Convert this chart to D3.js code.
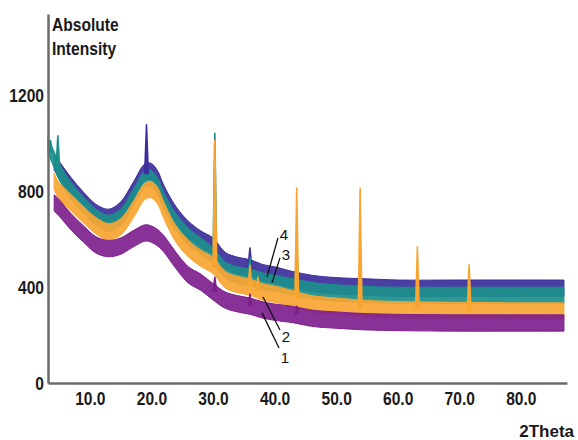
<!DOCTYPE html>
<html>
<head>
<meta charset="utf-8">
<script src="https://cdn.jsdelivr.net/npm/d3@7"></script>
<style>
  body { margin: 0; background: #fff; }
  svg { display: block; font-family: "Liberation Sans", Arial, sans-serif; }
</style>
</head>
<body>
<svg width="578" height="440"></svg>
<script>
// DATA
const twoTheta = [3.2, 4.2, 5, 7, 9, 11, 13, 15, 17, 19, 20, 21, 22, 24, 26, 28, 30, 32, 34, 36, 38, 40, 43, 46, 50, 55, 60, 70, 80, 87];
const series4 = [null, 920, 890, 820, 760, 710, 690, 720, 800, 880, 880, 850, 790, 700, 640, 600, 570, 510, 490, 480, 460, 450, 430, 415, 405, 400, 395, 395, 395, 395];
const series3 = [990, 930, 880, 800, 740, 690, 665, 690, 770, 850, 850, 820, 760, 670, 610, 570, 530, 470, 450, 440, 425, 415, 400, 385, 375, 368, 365, 365, 365, 365];
const series2 = [null, 840, 800, 750, 700, 655, 630, 650, 720, 800, 805, 780, 720, 620, 560, 520, 490, 430, 410, 400, 380, 370, 350, 330, 320, 310, 305, 302, 300, 300];
const series1 = [null, 750, 730, 670, 620, 575, 560, 570, 600, 625, 620, 605, 580, 510, 450, 420, 380, 345, 330, 320, 305, 295, 285, 270, 262, 255, 252, 250, 250, 250];

// peaks: [2theta, base, top]
const peaks4 = [[19.2, 870, 1075], [36.0, 480, 562], [30.3, 560, 640]];
const peaks3 = [[3.6, 960, 1010], [4.8, 890, 1030], [30.3, 520, 1040], [36.0, 440, 520], [43.6, 400, 560], [53.9, 370, 520], [63.2, 365, 470]];
const peaks2 = [[30.3, 480, 1010], [36.0, 400, 490], [37.3, 385, 440], [43.6, 350, 812], [53.9, 310, 812], [63.2, 305, 567], [71.6, 302, 492]];
const peaks1 = [[30.3, 380, 440], [36.0, 320, 370], [43.6, 285, 320]];

const seriesNames = ['4', '3', '2', '1'];
const yTicks = [0, 400, 800, 1200];
const xTicks = [10, 20, 30, 40, 50, 60, 70, 80];

// callouts: [label, lineStart 2theta, value, lineEnd 2theta, value, label 2theta, value]
const callouts = [
    ['4', 40.55, 604, 38.77, 442, 41.53, 596],
    ['3', 40.88, 521, 39.58, 417, 41.85, 512],
    ['2', 40.88, 221, 38.12, 358, 41.85, 171],
    ['1', 40.72, 146, 37.96, 292, 41.69, 83],
];

const svg = d3.select('svg');

const xScale = d3.scaleLinear().domain([3.2, 87.5]).range([48, 567]);
const yScale = d3.scaleLinear().domain([0, 1537]).range([383, 14]);

const colors = { '4': '#3c2f9c', '3': '#1b8f8b', '2': '#f8a532', '1': '#7e1f8e' };
const seriesData = { '4': series4, '3': series3, '2': series2, '1': series1 };
const peakData = { '4': peaks4, '3': peaks3, '2': peaks2, '1': peaks1 };
const halfBand = 34;

const band = d3.area()
    .defined(d => d[1] != null)
    .curve(d3.curveCatmullRom)
    .x(d => xScale(d[0]))
    .y0(d => yScale(d[1] - halfBand))
    .y1(d => yScale(d[1] + halfBand));

const plot = svg.append('g');

// BANDS
seriesNames.forEach(name => {
    const pts = twoTheta.map((t, i) => [t, seriesData[name][i]]);
    plot.append('path')
        .attr('d', band(pts))
        .attr('fill', colors[name])
        .attr('fill-opacity', 0.92)
        .attr('stroke', colors[name])
        .attr('stroke-width', 1);
});

// PEAKS
seriesNames.forEach(name => {
    plot.selectAll(null)
        .data(peakData[name])
        .enter()
        .append('path')
            .attr('d', d => d3.line()([
                [xScale(d[0] - 0.3), yScale(d[1])],
                [xScale(d[0]), yScale(d[2])],
                [xScale(d[0] + 0.3), yScale(d[1])]
            ]))
            .attr('fill', colors[name])
            .attr('stroke', colors[name])
            .attr('stroke-width', 1.6)
            .attr('stroke-linejoin', 'round');
});

// AXES
const squeeze = sel => sel.each(function () {
    const w = this.getComputedTextLength();
    d3.select(this).attr('textLength', w * 0.82).attr('lengthAdjust', 'spacingAndGlyphs');
});

const xAxis = d3.axisBottom(xScale).tickValues(xTicks).tickSize(0).tickPadding(9)
    .tickFormat(d3.format('.1f'));
const yAxis = d3.axisLeft(yScale).tickValues(yTicks).tickSize(0).tickPadding(4)
    .tickFormat(d3.format('d'));

const gx = svg.append('g').attr('transform', 'translate(0, 383)').call(xAxis);
const gy = svg.append('g').attr('transform', 'translate(48, 0)').call(yAxis);

[gx, gy].forEach(g => {
    g.select('.domain').attr('stroke', '#6b6b6b').attr('stroke-width', 2.5);
    g.selectAll('text')
        .attr('font-family', '"Liberation Sans", Arial, sans-serif')
        .attr('font-size', 19)
        .attr('font-weight', 'bold')
        .attr('fill', '#1a1a1a')
        .call(squeeze);
});

// TITLES
const titles = [['Absolute', 52, 31], ['Intensity', 52, 55]];
svg.selectAll('text.title')
    .data(titles)
    .enter()
    .append('text')
        .attr('class', 'title')
        .attr('x', d => d[1])
        .attr('y', d => d[2])
        .attr('font-size', 19)
        .attr('font-weight', 'bold')
        .attr('fill', '#1a1a1a')
        .text(d => d[0])
        .call(squeeze);

svg.append('text')
    .attr('x', 574)
    .attr('y', 437)
    .attr('text-anchor', 'end')
    .attr('font-size', 17)
    .attr('font-weight', 'bold')
    .attr('fill', '#1a1a1a')
    .text('2Theta');

// CALLOUTS
const cg = svg.append('g');
cg.selectAll('line')
    .data(callouts)
    .enter()
    .append('line')
        .attr('x1', d => xScale(d[1]))
        .attr('y1', d => yScale(d[2]))
        .attr('x2', d => xScale(d[3]))
        .attr('y2', d => yScale(d[4]))
        .attr('stroke', '#111')
        .attr('stroke-width', 1.3);
cg.selectAll('text')
    .data(callouts)
    .enter()
    .append('text')
        .attr('x', d => xScale(d[5]))
        .attr('y', d => yScale(d[6]))
        .attr('text-anchor', 'middle')
        .attr('font-size', 15)
        .attr('fill', '#111')
        .text(d => d[0]);
</script>
</body>
</html>
